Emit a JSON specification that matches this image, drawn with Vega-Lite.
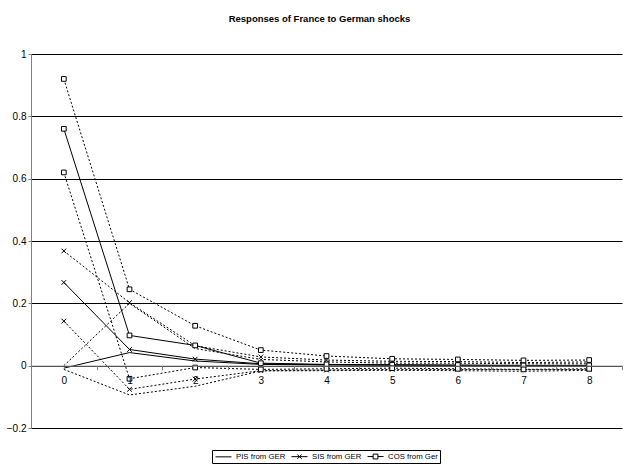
{
  "$schema": "https://vega.github.io/schema/vega-lite/v6.json",
  "width": 591,
  "height": 374,
  "autosize": "none",
  "padding": {"left": 31, "top": 54, "right": 6, "bottom": 47},
  "background": "white",
  "view": {"stroke": null},
  "title": {
    "text": "Responses of France to German shocks",
    "font": "Liberation Sans",
    "fontSize": 9.5,
    "fontWeight": "bold",
    "color": "black",
    "anchor": "middle",
    "offset": 26,
    "dx": -7
  },
  "config": {
    "font": "Liberation Sans",
    "axis": {"labelFont": "Liberation Sans", "labelFontSize": 10, "labelColor": "black"}
  },
  "data": {
    "values": [
      {"h": 0, "s": "PIS from GER", "b": "m", "v": -0.008},
      {"h": 1, "s": "PIS from GER", "b": "m", "v": 0.042},
      {"h": 2, "s": "PIS from GER", "b": "m", "v": 0.015},
      {"h": 3, "s": "PIS from GER", "b": "m", "v": 0.004},
      {"h": 4, "s": "PIS from GER", "b": "m", "v": 0.002},
      {"h": 5, "s": "PIS from GER", "b": "m", "v": 0.001},
      {"h": 6, "s": "PIS from GER", "b": "m", "v": 0.0},
      {"h": 7, "s": "PIS from GER", "b": "m", "v": -0.001},
      {"h": 8, "s": "PIS from GER", "b": "m", "v": -0.001},
      {"h": 0, "s": "PIS from GER", "b": "u", "v": 0.0},
      {"h": 1, "s": "PIS from GER", "b": "u", "v": 0.2},
      {"h": 2, "s": "PIS from GER", "b": "u", "v": 0.055},
      {"h": 3, "s": "PIS from GER", "b": "u", "v": 0.02},
      {"h": 4, "s": "PIS from GER", "b": "u", "v": 0.012},
      {"h": 5, "s": "PIS from GER", "b": "u", "v": 0.008},
      {"h": 6, "s": "PIS from GER", "b": "u", "v": 0.008},
      {"h": 7, "s": "PIS from GER", "b": "u", "v": 0.006},
      {"h": 8, "s": "PIS from GER", "b": "u", "v": 0.006},
      {"h": 0, "s": "PIS from GER", "b": "l", "v": -0.012},
      {"h": 1, "s": "PIS from GER", "b": "l", "v": -0.094},
      {"h": 2, "s": "PIS from GER", "b": "l", "v": -0.066},
      {"h": 3, "s": "PIS from GER", "b": "l", "v": -0.017},
      {"h": 4, "s": "PIS from GER", "b": "l", "v": -0.016},
      {"h": 5, "s": "PIS from GER", "b": "l", "v": -0.015},
      {"h": 6, "s": "PIS from GER", "b": "l", "v": -0.016},
      {"h": 7, "s": "PIS from GER", "b": "l", "v": -0.018},
      {"h": 8, "s": "PIS from GER", "b": "l", "v": -0.015},
      {"h": 0, "s": "SIS from GER", "b": "m", "v": 0.267},
      {"h": 1, "s": "SIS from GER", "b": "m", "v": 0.052},
      {"h": 2, "s": "SIS from GER", "b": "m", "v": 0.021},
      {"h": 3, "s": "SIS from GER", "b": "m", "v": 0.006},
      {"h": 4, "s": "SIS from GER", "b": "m", "v": 0.003},
      {"h": 5, "s": "SIS from GER", "b": "m", "v": 0.002},
      {"h": 6, "s": "SIS from GER", "b": "m", "v": 0.001},
      {"h": 7, "s": "SIS from GER", "b": "m", "v": 0.0},
      {"h": 8, "s": "SIS from GER", "b": "m", "v": 0.0},
      {"h": 0, "s": "SIS from GER", "b": "u", "v": 0.368},
      {"h": 1, "s": "SIS from GER", "b": "u", "v": 0.202},
      {"h": 2, "s": "SIS from GER", "b": "u", "v": 0.064},
      {"h": 3, "s": "SIS from GER", "b": "u", "v": 0.028},
      {"h": 4, "s": "SIS from GER", "b": "u", "v": 0.018},
      {"h": 5, "s": "SIS from GER", "b": "u", "v": 0.014},
      {"h": 6, "s": "SIS from GER", "b": "u", "v": 0.013},
      {"h": 7, "s": "SIS from GER", "b": "u", "v": 0.01},
      {"h": 8, "s": "SIS from GER", "b": "u", "v": 0.012},
      {"h": 0, "s": "SIS from GER", "b": "l", "v": 0.143},
      {"h": 1, "s": "SIS from GER", "b": "l", "v": -0.076},
      {"h": 2, "s": "SIS from GER", "b": "l", "v": -0.043},
      {"h": 3, "s": "SIS from GER", "b": "l", "v": -0.016},
      {"h": 4, "s": "SIS from GER", "b": "l", "v": -0.014},
      {"h": 5, "s": "SIS from GER", "b": "l", "v": -0.012},
      {"h": 6, "s": "SIS from GER", "b": "l", "v": -0.012},
      {"h": 7, "s": "SIS from GER", "b": "l", "v": -0.013},
      {"h": 8, "s": "SIS from GER", "b": "l", "v": -0.012},
      {"h": 0, "s": "COS from Ger", "b": "m", "v": 0.76},
      {"h": 1, "s": "COS from Ger", "b": "m", "v": 0.097},
      {"h": 2, "s": "COS from Ger", "b": "m", "v": 0.065},
      {"h": 3, "s": "COS from Ger", "b": "m", "v": 0.008},
      {"h": 4, "s": "COS from Ger", "b": "m", "v": 0.004},
      {"h": 5, "s": "COS from Ger", "b": "m", "v": 0.003},
      {"h": 6, "s": "COS from Ger", "b": "m", "v": 0.002},
      {"h": 7, "s": "COS from Ger", "b": "m", "v": 0.001},
      {"h": 8, "s": "COS from Ger", "b": "m", "v": 0.001},
      {"h": 0, "s": "COS from Ger", "b": "u", "v": 0.92},
      {"h": 1, "s": "COS from Ger", "b": "u", "v": 0.245},
      {"h": 2, "s": "COS from Ger", "b": "u", "v": 0.128},
      {"h": 3, "s": "COS from Ger", "b": "u", "v": 0.05},
      {"h": 4, "s": "COS from Ger", "b": "u", "v": 0.031},
      {"h": 5, "s": "COS from Ger", "b": "u", "v": 0.022},
      {"h": 6, "s": "COS from Ger", "b": "u", "v": 0.02},
      {"h": 7, "s": "COS from Ger", "b": "u", "v": 0.017},
      {"h": 8, "s": "COS from Ger", "b": "u", "v": 0.018},
      {"h": 0, "s": "COS from Ger", "b": "l", "v": 0.62},
      {"h": 1, "s": "COS from Ger", "b": "l", "v": -0.042},
      {"h": 2, "s": "COS from Ger", "b": "l", "v": -0.006},
      {"h": 3, "s": "COS from Ger", "b": "l", "v": -0.012},
      {"h": 4, "s": "COS from Ger", "b": "l", "v": -0.01},
      {"h": 5, "s": "COS from Ger", "b": "l", "v": -0.008},
      {"h": 6, "s": "COS from Ger", "b": "l", "v": -0.01},
      {"h": 7, "s": "COS from Ger", "b": "l", "v": -0.012},
      {"h": 8, "s": "COS from Ger", "b": "l", "v": -0.01}
    ]
  },
  "encoding": {
    "x": {
      "field": "h",
      "type": "ordinal",
      "bandPosition": 0.5,
      "scale": {"type": "band", "paddingInner": 0, "paddingOuter": 0},
      "axis": {
        "title": null,
        "orient": "bottom",
        "offset": -62.33,
        "labelAngle": 0,
        "domainColor": "#808080",
        "tickColor": "#808080",
        "tickSize": 4,
        "tickBand": "extent",
        "labelPadding": 6,
        "grid": false,
        "zindex": 1
      }
    },
    "y": {
      "field": "v",
      "type": "quantitative",
      "scale": {"domain": [-0.2, 1], "nice": false, "zero": false},
      "axis": {
        "title": null,
        "values": [-0.2, 0, 0.2, 0.4, 0.6, 0.8, 1],
        "format": "~g",
        "domainColor": "#808080",
        "tickColor": "#808080",
        "tickSize": 3,
        "labelPadding": 2,
        "grid": true,
        "gridColor": "black",
        "gridOpacity": 1,
        "gridWidth": 1,
        "zindex": 0
      }
    }
  },
  "layer": [
    {
      "transform": [{"filter": "datum.b == 'm'"}],
      "mark": {"type": "line", "color": "black", "strokeWidth": 1},
      "encoding": {"detail": {"field": "s"}}
    },
    {
      "transform": [{"filter": "datum.b != 'm'"}],
      "mark": {"type": "line", "color": "black", "strokeWidth": 1, "strokeDash": [2, 2]},
      "encoding": {"detail": [{"field": "s"}, {"field": "b"}]}
    },
    {
      "transform": [{"filter": "datum.s == 'SIS from GER'"}],
      "mark": {"type": "point", "shape": "M-1,-1L1,1M-1,1L1,-1", "filled": false, "stroke": "black", "strokeWidth": 1, "size": 22, "opacity": 1}
    },
    {
      "transform": [{"filter": "datum.s == 'COS from Ger'"}],
      "mark": {"type": "point", "shape": "square", "filled": true, "fill": "white", "stroke": "black", "strokeWidth": 1, "size": 22, "opacity": 1}
    },
    {
      "transform": [{"filter": "datum.b == 'm' && datum.h == 8"}],
      "mark": {"type": "point", "filled": false, "stroke": "black", "strokeWidth": 1, "size": 1, "opacity": 0},
      "encoding": {
        "shape": {
          "field": "s",
          "type": "nominal",
          "scale": {
            "domain": ["PIS from GER", "SIS from GER", "COS from Ger"],
            "range": ["M-2,0H2", "M-2,0H2M-0.55,-0.55L0.55,0.55M-0.55,0.55L0.55,-0.55", "M-2,0H-0.6M0.6,0H2M-0.6,-0.6H0.6V0.6H-0.6Z"]
          },
          "legend": {
            "title": null,
            "orient": "none",
            "legendX": 181,
            "legendY": 396,
            "direction": "horizontal",
            "strokeColor": "black",
            "padding": 2,
            "labelFont": "Liberation Sans",
            "labelFontSize": 7.8,
            "labelColor": "black",
            "labelOffset": 8,
            "labelLimit": 0,
            "columnPadding": 3,
            "symbolSize": 64,
            "symbolOffset": 5,
            "symbolStrokeWidth": 1,
            "symbolStrokeColor": "black",
            "symbolFillColor": "white",
            "symbolOpacity": 1
          }
        }
      }
    }
  ]
}
